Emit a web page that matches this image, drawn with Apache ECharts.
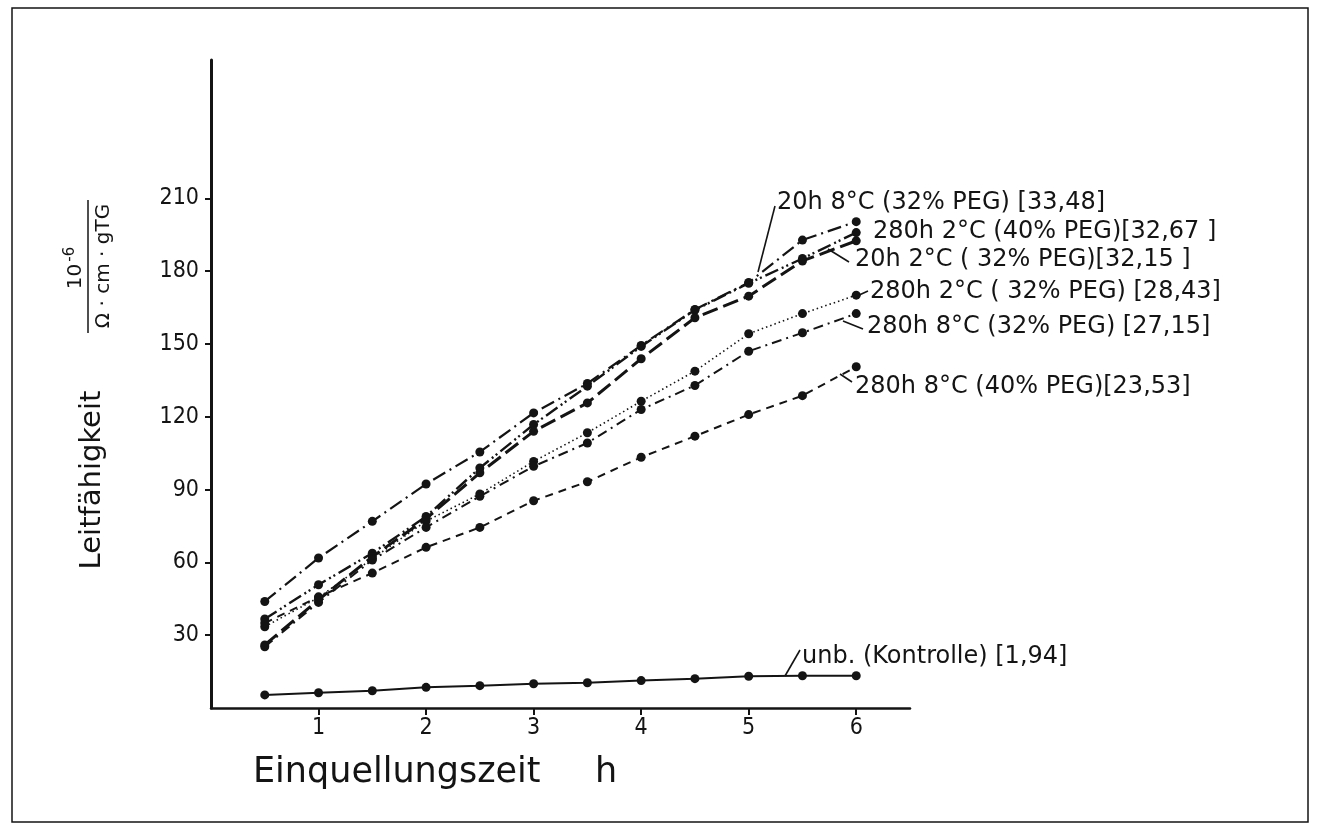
<!DOCTYPE html>
<html><head><meta charset="utf-8">
<script src="https://cdn.jsdelivr.net/npm/echarts@6/dist/echarts.min.js"></script>
<style>html,body{margin:0;padding:0;background:#fff}#c{width:1320px;height:832px}</style>
</head><body><div id="c"></div>
<script>
// ---- data ----
const hours = [0.5, 1, 1.5, 2, 2.5, 3, 3.5, 4, 4.5, 5, 5.5, 6];
const xTickValues = [1, 2, 3, 4, 5, 6];
const yTickValues = [30, 60, 90, 120, 150, 180, 210];
const v280h2C40 = [43.9, 61.8, 76.9, 92.3, 105.5, 121.6, 133.7, 149.4, 164.2, 175.3, 192.8, 200.4];
const v20h8C32  = [36.7, 50.8, 63.8, 78.9, 98.9, 116.8, 132.6, 149.0, 164.0, 175.0, 185.2, 195.9];
const v20h2C32  = [26.0, 44.6, 62.3, 78.0, 96.9, 114.0, 125.7, 143.9, 160.8, 169.7, 184.2, 192.5];
const v280h2C32 = [33.5, 45.5, 61.5, 77.0, 88.2, 101.6, 113.4, 126.4, 138.8, 154.2, 162.5, 170.1];
const v280h8C32 = [25.2, 43.5, 61.0, 74.4, 87.2, 99.6, 109.2, 123.0, 132.9, 147.0, 154.6, 162.5];
const v280h8C40 = [35.0, 45.8, 55.6, 66.2, 74.4, 85.4, 93.2, 103.3, 112.0, 120.9, 128.7, 140.6];
const vKontrolle = [5.4, 6.3, 7.1, 8.5, 9.2, 10.0, 10.4, 11.3, 12.1, 13.1, 13.3, 13.3];
const seriesNames = [
  '280h 2°C (40% PEG)[32,67 ]',
  '20h 8°C (32% PEG) [33,48]',
  '20h 2°C ( 32% PEG)[32,15 ]',
  '280h 2°C ( 32% PEG) [28,43]',
  '280h 8°C (32% PEG) [27,15]',
  '280h 8°C (40% PEG)[23,53]',
  'unb. (Kontrolle) [1,94]'
];
const xAxisTitle = 'Einquellungszeit';
const xAxisUnit = 'h';
const yAxisTitle = 'Leitfähigkeit';
const unitNumerator = '10';
const unitExponent = '-6';
const unitDenominator = 'Ω · cm · gTG';

// ---- styling ----
const allValues = [v280h2C40, v20h8C32, v20h2C32, v280h2C32, v280h8C32, v280h8C40, vKontrolle];
const lineStyles = [
  {width: 2.2, type: [14, 5, 2, 5]},
  {width: 2.4, type: [14, 4, 2, 3, 2, 4]},
  {width: 3, type: [16, 6]},
  {width: 1.6, type: [1.5, 3]},
  {width: 2, type: [10, 5, 2, 5]},
  {width: 2, type: [8, 6]},
  {width: 2, type: 'solid'}
];
const ink = '#141414';
const annFont = "'DejaVu Sans', sans-serif";
const tickFont = "'Liberation Sans Narrow', 'DejaVu Sans Condensed', sans-serif";

const series = allValues.map((vals, i) => ({
  name: seriesNames[i],
  type: 'line',
  data: vals.map((v, j) => [hours[j], v]),
  symbol: 'circle',
  symbolSize: 9,
  itemStyle: {color: ink},
  lineStyle: Object.assign({color: ink}, lineStyles[i]),
  z: 3
}));

// annotation layout (pixel positions of labels and leaders), in series order
const annLayout = [
  {x: 873, y: 232},
  {x: 777, y: 203, leader: [775, 206, 758, 272]},
  {x: 855, y: 260, leader: [849, 262, 828, 249]},
  {x: 870, y: 292, leader: [868, 291, 857, 296]},
  {x: 867, y: 327, leader: [863, 329, 843, 321]},
  {x: 855, y: 387, leader: [852, 382, 840, 374]},
  {x: 802, y: 657, leader: [800, 650, 785, 676]}
];
const graphics = [];
annLayout.forEach((a, i) => {
  graphics.push({type: 'text', x: a.x, y: a.y, style: {text: seriesNames[i], fill: ink, font: '24px ' + annFont, textVerticalAlign: 'middle', textAlign: 'left'}});
  if (a.leader) graphics.push({type: 'line', shape: {x1: a.leader[0], y1: a.leader[1], x2: a.leader[2], y2: a.leader[3]}, style: {stroke: ink, lineWidth: 1.6}});
});
// frame
graphics.push({type: 'rect', shape: {x: 12, y: 8, width: 1296, height: 814}, style: {fill: 'none', stroke: ink, lineWidth: 1.5}, z: -1});
// y title
graphics.push({type: 'text', x: 92, y: 480, rotation: Math.PI / 2, style: {text: yAxisTitle, fill: ink, font: '29px ' + annFont, textAlign: 'center', textVerticalAlign: 'middle'}});
// unit fraction
graphics.push({type: 'text', x: 76, y: 268, rotation: Math.PI / 2, style: {text: '{n|' + unitNumerator + '}{e|' + unitExponent + '}', rich: {n: {font: '20px ' + annFont, fill: ink}, e: {font: '15px ' + annFont, fill: ink, padding: [0, 0, 12, 2]}}, textAlign: 'center', textVerticalAlign: 'middle'}});
graphics.push({type: 'line', shape: {x1: 88, y1: 200, x2: 88, y2: 333}, style: {stroke: ink, lineWidth: 1.5}});
graphics.push({type: 'text', x: 104, y: 266, rotation: Math.PI / 2, style: {text: unitDenominator, fill: ink, font: '20px ' + annFont, textAlign: 'center', textVerticalAlign: 'middle'}});
// x title
graphics.push({type: 'text', x: 253, y: 773, style: {text: xAxisTitle, fill: ink, font: '35px ' + annFont, textAlign: 'left', textVerticalAlign: 'middle'}});
graphics.push({type: 'text', x: 606, y: 773, style: {text: xAxisUnit, fill: ink, font: '35px ' + annFont, textAlign: 'center', textVerticalAlign: 'middle'}});

const chart = echarts.init(document.getElementById('c'), null, {renderer: 'canvas'});
chart.setOption({
  animation: false,
  backgroundColor: '#fff',
  grid: {left: 211, top: 60, width: 699, height: 648, containLabel: false},
  xAxis: {
    type: 'value', min: 0, max: 6.5,
    axisLine: {show: true, onZero: false, lineStyle: {color: ink, width: 2.5}},
    axisTick: {show: true, length: 7, customValues: xTickValues, lineStyle: {color: ink, width: 2}},
    axisLabel: {customValues: xTickValues, color: ink, fontFamily: tickFont, fontSize: 23, margin: 9},
    splitLine: {show: false}
  },
  yAxis: {
    type: 'value', min: 0, max: 267,
    axisLine: {show: true, onZero: false, lineStyle: {color: ink, width: 3}},
    axisTick: {show: true, length: 6, customValues: yTickValues, lineStyle: {color: ink, width: 2}},
    axisLabel: {customValues: yTickValues, color: ink, fontFamily: tickFont, fontSize: 23, margin: 12},
    splitLine: {show: false}
  },
  series: series,
  graphic: graphics
});
</script>
</body></html>
